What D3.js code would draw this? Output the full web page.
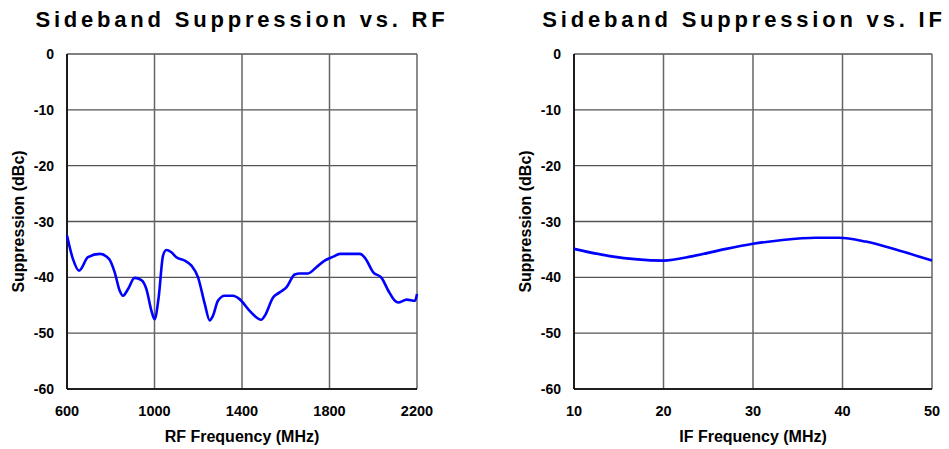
<!DOCTYPE html>
<html>
<head>
<meta charset="utf-8">
<script src="https://cdn.jsdelivr.net/npm/d3@7"></script>
<style>
  body { margin: 0; background: #fff; }
  svg { display: block; font-family: "Liberation Sans", Arial, sans-serif; }
</style>
</head>
<body>
<svg id="chart" width="949" height="449"></svg>
<script>
// values
const rfFreq = [600, 627, 655, 696, 750, 792, 818, 841, 856, 879, 909, 940, 963, 986, 1000,
  1019, 1039, 1054, 1077, 1100, 1138, 1169, 1199, 1230, 1252, 1267, 1290, 1321, 1359, 1389,
  1435, 1488, 1504, 1542, 1572, 1603, 1641, 1664, 1702, 1740, 1778, 1817, 1847, 1939, 1962,
  2000, 2038, 2069, 2099, 2114, 2153, 2191, 2200];
const rfSuppression = [-32.5, -36.7, -38.8, -36.4, -35.8, -36.7, -39.1, -42.4, -43.3, -42.1, -40.1, -40.5, -42.1, -46, -47.5,
  -43.6, -36.1, -35.1, -35.5, -36.4, -37, -37.9, -40, -44.8, -47.7, -46.9, -44.2, -43.3, -43.3, -43.9,
  -46, -47.6, -46.9, -43.6, -42.7, -41.8, -39.5, -39.3, -39.3, -38.2, -37, -36.3, -35.8, -35.8, -36.5,
  -39.1, -40.1, -42.4, -44.2, -44.5, -44, -44.2, -43];

const ifFreq = [10, 14, 20, 23.3, 27, 30, 33.3, 37, 39.6, 42.6, 46.3, 50];
const ifSuppression = [-34.9, -36.2, -37.0, -36.2, -34.9, -34.0, -33.3, -32.9, -32.9, -33.6, -35.2, -37.0];

const yTicks = [0, -10, -20, -30, -40, -50, -60];
const rfTicks = [600, 1000, 1400, 1800, 2200];
const ifTicks = [10, 20, 30, 40, 50];

const svg = d3.select("#chart");

function drawPanel(opts) {
  const g = svg.append("g");

  const x = d3.scaleLinear()
    .domain(opts.xDomain)
    .range([opts.left, opts.right]);

  const y = d3.scaleLinear()
    .domain([-60, 0])
    .range([opts.bottom, opts.top]);

  // grid
  g.append("g")
    .selectAll("line")
    .data(yTicks)
    .enter()
    .append("line")
    .attr("x1", opts.left)
    .attr("x2", opts.right)
    .attr("y1", d => y(d))
    .attr("y2", d => y(d))
    .attr("stroke", "#555")
    .attr("stroke-width", 1.3);

  g.append("g")
    .selectAll("line")
    .data(opts.xTicks)
    .enter()
    .append("line")
    .attr("x1", d => x(d))
    .attr("x2", d => x(d))
    .attr("y1", opts.top)
    .attr("y2", opts.bottom)
    .attr("stroke", "#666")
    .attr("stroke-width", 1.5);

  // left and bottom axis lines
  g.append("line")
    .attr("x1", opts.left).attr("x2", opts.left)
    .attr("y1", opts.top).attr("y2", opts.bottom)
    .attr("stroke", "#000").attr("stroke-width", 1.6);
  g.append("line")
    .attr("x1", opts.left).attr("x2", opts.right)
    .attr("y1", opts.bottom).attr("y2", opts.bottom)
    .attr("stroke", "#000").attr("stroke-width", 1.6);

  // tick labels
  g.append("g")
    .selectAll("text")
    .data(yTicks)
    .enter()
    .append("text")
    .attr("x", opts.left - 13)
    .attr("y", d => y(d))
    .attr("dy", "0.36em")
    .attr("text-anchor", "end")
    .attr("font-size", "14px")
    .attr("font-weight", "bold")
    .text(d => d);

  g.append("g")
    .selectAll("text")
    .data(opts.xTicks)
    .enter()
    .append("text")
    .attr("x", d => x(d))
    .attr("y", opts.bottom + 27)
    .attr("text-anchor", "middle")
    .attr("font-size", "14.5px")
    .attr("font-weight", "bold")
    .text(d => d);

  // curve
  const pts = opts.xs.map((v, i) => [v, opts.ys[i]]);
  g.append("path")
    .datum(pts)
    .attr("fill", "none")
    .attr("stroke", "#0000ff")
    .attr("stroke-width", 2.6)
    .attr("stroke-linejoin", "round")
    .attr("d", d3.line()
      .x(d => x(d[0]))
      .y(d => y(d[1]))
      .curve(d3.curveMonotoneX));

  // titles
  g.append("text")
    .attr("x", opts.titleX)
    .attr("y", 27)
    .attr("text-anchor", "middle")
    .attr("font-size", "22px")
    .attr("font-weight", "bold")
    .attr("letter-spacing", "3.8px")
    .text(opts.title);

  g.append("text")
    .attr("x", (opts.left + opts.right) / 2)
    .attr("y", 442)
    .attr("text-anchor", "middle")
    .attr("font-size", "16px")
    .attr("font-weight", "bold")
    .text(opts.xLabel);

  g.append("text")
    .attr("transform", "rotate(-90)")
    .attr("x", -(opts.top + opts.bottom) / 2)
    .attr("y", opts.left - 43)
    .attr("text-anchor", "middle")
    .attr("font-size", "16px")
    .attr("font-weight", "bold")
    .text("Suppression (dBc)");
}

drawPanel({
  left: 67, right: 417, top: 54, bottom: 389,
  xDomain: [600, 2200], xTicks: rfTicks,
  xs: rfFreq, ys: rfSuppression,
  title: "Sideband Suppression vs. RF", titleX: 242,
  xLabel: "RF Frequency (MHz)"
});

drawPanel({
  left: 574, right: 932, top: 54, bottom: 389,
  xDomain: [10, 50], xTicks: ifTicks,
  xs: ifFreq, ys: ifSuppression,
  title: "Sideband Suppression vs. IF", titleX: 744,
  xLabel: "IF Frequency (MHz)"
});
</script>
</body>
</html>
